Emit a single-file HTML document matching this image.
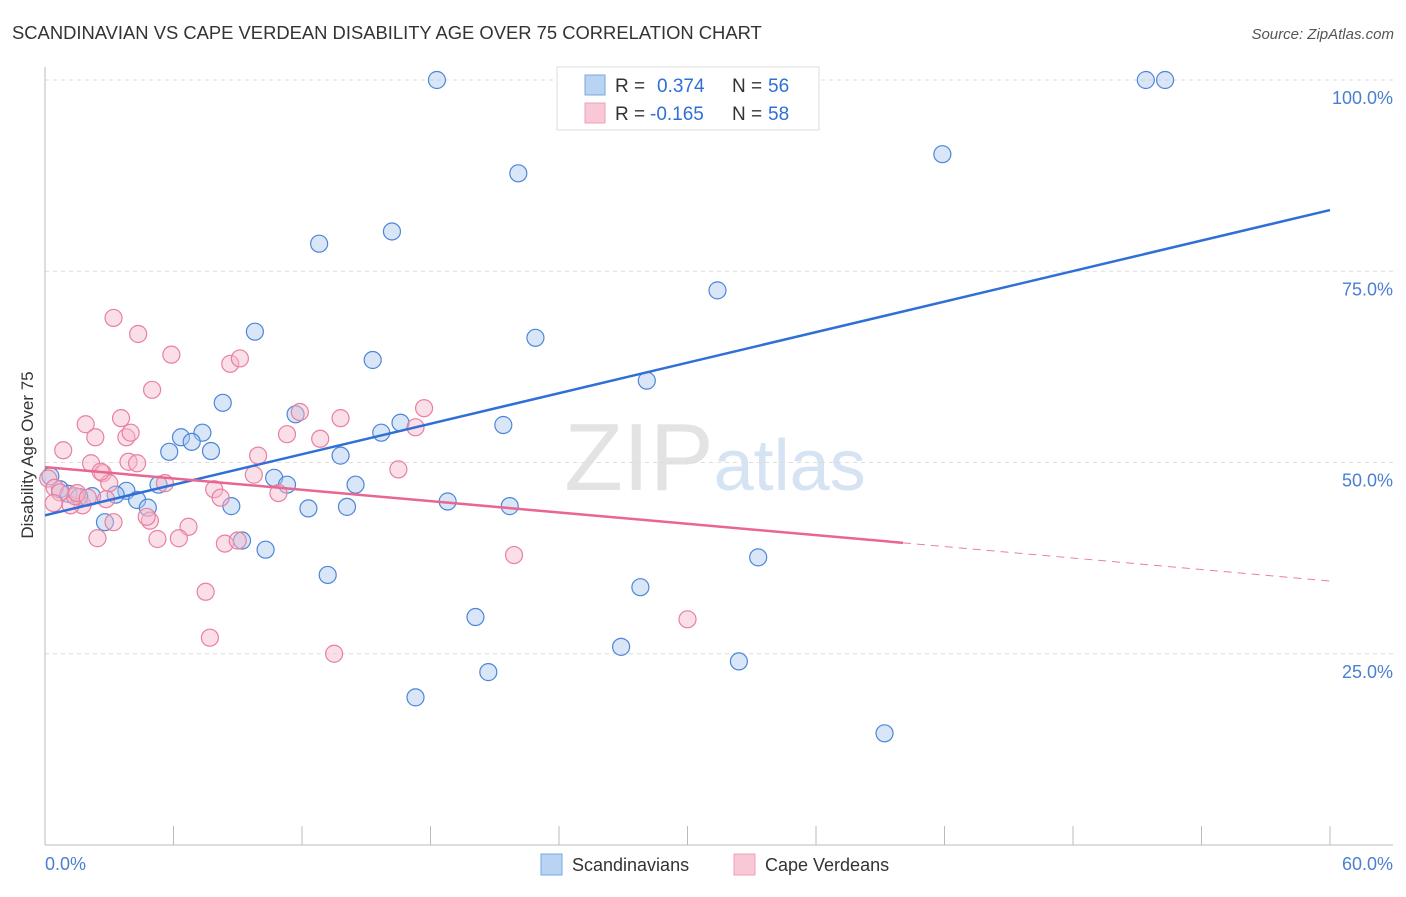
<!DOCTYPE html>
<html><head><meta charset="utf-8"><style>
body{margin:0;background:#fff;font-family:"Liberation Sans",sans-serif;}
svg text{font-family:"Liberation Sans",sans-serif;}
</style></head><body>
<svg id="chart" width="1406" height="892" xmlns="http://www.w3.org/2000/svg">
<text x="12" y="39" font-size="18.4" fill="#333">SCANDINAVIAN VS CAPE VERDEAN DISABILITY AGE OVER 75 CORRELATION CHART</text>
<text x="1394" y="39" font-size="15" fill="#555" text-anchor="end" font-style="italic">Source: ZipAtlas.com</text>
<text x="715" y="490" font-size="96" text-anchor="middle" fill="#e3e3e3" font-family="Liberation Serif"><tspan>ZIP</tspan><tspan fill="#d5e3f3" font-family="Liberation Sans" font-size="72">atlas</tspan></text>
<g id="grid"></g>
<g id="axes"></g>
<g id="pts"></g>
<g id="trends"></g>
<text transform="translate(33,455) rotate(-90)" font-size="17" fill="#333" text-anchor="middle">Disability Age Over 75</text>
<text x="45" y="870" font-size="18" fill="#4a7fd0">0.0%</text>
<text x="1393" y="870" font-size="18" fill="#4a7fd0" text-anchor="end">60.0%</text>
<g>
<rect x="557" y="67" width="262" height="63" fill="#fff" stroke="#ddd"/>
<rect x="585" y="75" width="20" height="20" fill="#b9d3f3" stroke="#7aa7e0"/>
<rect x="585" y="103" width="20" height="20" fill="#f9c8d6" stroke="#eea0b6"/>
<text x="615" y="92" font-size="19" fill="#333">R =</text><text x="657" y="92" font-size="19" fill="#2f6fd6">0.374</text>
<text x="732" y="92" font-size="19" fill="#333">N =</text><text x="768" y="92" font-size="19" fill="#2f6fd6">56</text>
<text x="615" y="120" font-size="19" fill="#333">R =</text><text x="650" y="120" font-size="19" fill="#2f6fd6">-0.165</text>
<text x="732" y="120" font-size="19" fill="#333">N =</text><text x="768" y="120" font-size="19" fill="#2f6fd6">58</text>
</g>
<g>
<rect x="541" y="854" width="21" height="21" fill="#b9d3f3" stroke="#7aa7e0"/>
<text x="572" y="871" font-size="18" fill="#333">Scandinavians</text>
<rect x="734" y="854" width="21" height="21" fill="#f9c8d6" stroke="#eea0b6"/>
<text x="765" y="871" font-size="18" fill="#333">Cape Verdeans</text>
</g>
</svg>
<script>
const yTicks=[25,50,75,100];
const yTickLabels=["25.0%","50.0%","75.0%","100.0%"];
const xTicks=[0,6,12,18,24,30,36,42,48,54,60];
const blueX=[18.3,25.7,51.4,52.3,41.9,22.1,16.2,12.8,31.4,9.8,22.9,15.3,28.1,8.3,11.7,16.6,21.4,15.7,6.35,7.35,6.85,5.8,7.75,13.8,10.7,5.3,11.3,14.5,3.8,3.3,2.2,0.7,0.25,4.3,4.8,8.7,18.8,21.7,12.3,14.1,2.8,9.2,10.3,13.2,33.3,27.8,20.1,26.9,32.4,20.7,17.3,39.2,1.1,1.6];
const blueY=[100,100,100,100,90.3,87.8,80.2,78.6,72.5,67.1,66.3,63.4,60.7,57.8,56.3,55.2,54.9,53.9,53.3,53.9,52.7,51.4,51.5,50.9,48.0,47.1,47.1,47.1,46.3,45.8,45.6,46.5,48.2,45.1,44.1,44.3,44.9,44.3,44.0,44.2,42.2,39.8,38.6,35.3,37.6,33.7,29.8,25.9,24.0,22.6,19.3,14.6,45.9,45.5];
const pinkX=[3.2,4.35,5.9,5.0,8.65,9.1,1.9,3.55,0.85,2.35,3.8,4.0,2.15,3.9,4.3,2.7,3.0,5.6,7.9,9.95,11.3,11.9,12.85,13.8,17.7,17.3,16.5,9.75,10.9,8.2,2.85,1.75,1.2,1.4,0.15,0.45,0.7,4.9,4.75,6.7,6.25,2.45,5.25,3.2,8.4,9.0,7.5,7.7,13.5,21.9,30.0,1.5,2.0,0.4,2.6];
const pinkY=[68.9,66.8,64.1,59.5,62.9,63.6,55.0,55.8,51.6,53.3,53.3,53.9,49.9,50.1,49.9,48.6,47.3,47.3,46.5,50.9,53.7,56.6,53.1,55.8,57.1,54.6,49.1,48.4,46.0,45.4,45.2,44.4,44.4,45.6,47.9,46.7,46.1,42.4,42.9,41.6,40.1,40.1,40.0,42.2,39.4,39.8,33.1,27.1,25.0,37.9,29.5,46.0,45.4,44.7,48.8];
const blueTrend=[{x:0,y:43.1},{x:60,y:83.0}];
const pinkTrend=[{x:0,y:49.4},{x:40.06,y:39.5},{x:60,y:34.5}];
const X0=45,X1=1330,YB=845,PX=765;
const sx=v=>X0+(X1-X0)*v/60, sy=v=>YB-PX*v/100;
const NS="http://www.w3.org/2000/svg";
function mk(parent,tag,attrs){const e=document.createElementNS(NS,tag);for(const k in attrs)e.setAttribute(k,attrs[k]);document.getElementById(parent).appendChild(e);return e;}
yTicks.forEach((t,i)=>{
 const l=mk('grid','line',{x1:45,x2:1393,y1:sy(t),y2:sy(t),stroke:'#ddd','stroke-dasharray':'4,4'});
 
 
 const tx=mk('grid','text',{x:1393,y:sy(t)+24,'font-size':18,fill:'#4a7fd0','text-anchor':'end'});
 tx.textContent=yTickLabels[i];
 
 
});
let a=mk('axes','line',{x1:45,x2:1393,y1:YB,y2:YB,stroke:'#bbb'});


a=mk('axes','line',{x1:45,x2:45,y1:67,y2:YB,stroke:'#bbb'});


xTicks.forEach(t=>{
 const l=mk('axes','line',{x1:sx(t),x2:sx(t),y1:826,y2:YB,stroke:'#bbb'});
 
 
});
function pts(xs,ys,fill,stroke,name){xs.forEach((x,i)=>{
 const c=mk('pts','circle',{cx:sx(x),cy:sy(ys[i]),r:8.5,fill:fill,'fill-opacity':0.45,stroke:stroke,'stroke-width':1.2});
 
 
});}
pts(blueX,blueY,'#a9c8f0','#4d86d8','scandinavian-point');
pts(pinkX,pinkY,'#f7b9cb','#e8809f','cape-verdean-point');
let t=mk('trends','line',{x1:sx(blueTrend[0].x),y1:sy(blueTrend[0].y),x2:sx(blueTrend[1].x),y2:sy(blueTrend[1].y),stroke:'#2f6fd6','stroke-width':2.5});


t=mk('trends','line',{x1:sx(pinkTrend[0].x),y1:sy(pinkTrend[0].y),x2:sx(pinkTrend[1].x),y2:sy(pinkTrend[1].y),stroke:'#e8668f','stroke-width':2.5});


t=mk('trends','line',{x1:sx(pinkTrend[1].x),y1:sy(pinkTrend[1].y),x2:sx(pinkTrend[2].x),y2:sy(pinkTrend[2].y),stroke:'#e8809f','stroke-width':1,'stroke-dasharray':'8,6'});


</script>
</body></html>
